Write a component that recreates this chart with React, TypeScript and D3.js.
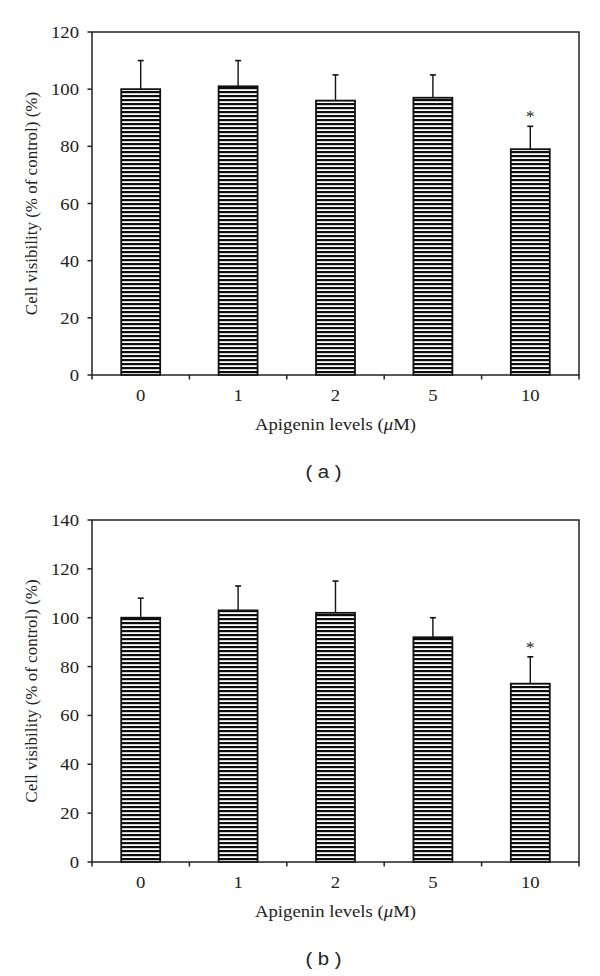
import React from "react";
import * as d3 from "d3";

const categories = ["0", "1", "2", "5", "10"];
const meansA = [100, 101, 96, 97, 79];
const errTopA = [110, 110, 105, 105, 87];
const sigA = [false, false, false, false, true];
const yTicksA = [0, 20, 40, 60, 80, 100, 120];

const meansB = [100, 103, 102, 92, 73];
const errTopB = [108, 113, 115, 100, 84];
const sigB = [false, false, false, false, true];
const yTicksB = [0, 20, 40, 60, 80, 100, 120, 140];

const yLabel = "Cell visibility (% of control) (%)";
const panelLabels = ["( a )", "( b )"];

const SX = 1.1;

type PanelProps = {
  top: number;
  bottom: number;
  means: number[];
  errTop: number[];
  sig: boolean[];
  ticks: number[];
  label: string;
  pid: string;
};

function Panel({ top, bottom, means, errTop, sig, ticks, label, pid }: PanelProps) {
  const left = 92;
  const right = 579;
  const x = d3.scaleBand<string>().domain(categories).range([left, right]).padding(0);
  const y = d3.scaleLinear().domain([0, ticks[ticks.length - 1]]).range([bottom, top]);
  const bw = x.bandwidth() * 0.4;
  const serif = "'Liberation Serif', 'Times New Roman', serif";
  const boundaries = categories.map((c) => (x(c) as number) + x.bandwidth());
  return (
    <g>
      <defs>
        <pattern id={"hatch" + pid} patternUnits="userSpaceOnUse" width={8} height={4} y={bottom}>
          <rect x={0} y={0} width={8} height={4} fill="#fff" />
          <rect x={0} y={0} width={8} height={2.2} fill="#0d0d0d" />
        </pattern>
      </defs>
      {categories.map((c, i) => {
        const cx = (x(c) as number) + x.bandwidth() / 2;
        const yt = y(means[i]);
        const ye = y(errTop[i]);
        return (
          <g key={c}>
            <line x1={cx} x2={cx} y1={yt} y2={ye} stroke="#111" strokeWidth={1.4} />
            <line x1={cx - 3} x2={cx + 3} y1={ye} y2={ye} stroke="#111" strokeWidth={1.6} />
            <rect
              x={cx - bw / 2}
              y={yt}
              width={bw}
              height={bottom - yt}
              fill={`url(#hatch${pid})`}
              stroke="#111"
              strokeWidth={1.8}
            />
            {sig[i] && (
              <text
                x={cx}
                y={ye - 4}
                textAnchor="middle"
                fontFamily={serif}
                fontSize={17}
                fill="#222"
              >
                *
              </text>
            )}
          </g>
        );
      })}
      <rect x={left} y={top} width={right - left} height={bottom - top} fill="none" stroke="#222" strokeWidth={1.5} />
      {ticks.map((t) => (
        <g key={t}>
          <line x1={left - 4.5} x2={left} y1={y(t)} y2={y(t)} stroke="#222" strokeWidth={1.5} />
          <text
            transform={`translate(${left - 13},${y(t) + 6}) scale(${SX},1)`}
            textAnchor="end"
            fontFamily={serif}
            fontSize={17}
            fill="#222"
          >
            {t}
          </text>
        </g>
      ))}
      {boundaries.map((bx, i) => (
        <line key={i} x1={bx} x2={bx} y1={bottom} y2={bottom + 4.5} stroke="#222" strokeWidth={1.5} />
      ))}
      <line x1={left} x2={left} y1={bottom} y2={bottom + 4.5} stroke="#222" strokeWidth={1.5} />
      {categories.map((c) => (
        <text
          key={c}
          transform={`translate(${(x(c) as number) + x.bandwidth() / 2},${bottom + 25.5}) scale(${SX},1)`}
          textAnchor="middle"
          fontFamily={serif}
          fontSize={17}
          fill="#222"
        >
          {c}
        </text>
      ))}
      <text
        transform={`translate(${(left + right) / 2},${bottom + 55}) scale(${SX},1)`}
        textAnchor="middle"
        fontFamily={serif}
        fontSize={17}
        fill="#222"
      >
        Apigenin levels (<tspan fontStyle="italic">μ</tspan>M)
      </text>
      <text
        transform={`translate(37,${(top + bottom) / 2}) rotate(-90)`}
        textAnchor="middle"
        fontFamily={serif}
        fontSize={17}
        fill="#222"
      >
        {yLabel}
      </text>
      <text
        transform={`translate(${(left + right) / 2 - 12},${bottom + 103}) scale(${SX},1)`}
        textAnchor="middle"
        fontFamily="'Liberation Sans', Arial, sans-serif"
        fontSize={18.5}
        fill="#222"
      >
        {label}
      </text>
    </g>
  );
}

export default function App() {
  return (
    <svg
      width={600}
      height={976}
      viewBox="0 0 600 976"
      style={{ position: "absolute", left: 0, top: 0, background: "#fff" }}
    >
      <rect x={0} y={0} width={600} height={976} fill="#fff" />
      <Panel top={32} bottom={375} means={meansA} errTop={errTopA} sig={sigA} ticks={yTicksA} label={panelLabels[0]} pid="a" />
      <Panel top={520} bottom={862} means={meansB} errTop={errTopB} sig={sigB} ticks={yTicksB} label={panelLabels[1]} pid="b" />
    </svg>
  );
}
